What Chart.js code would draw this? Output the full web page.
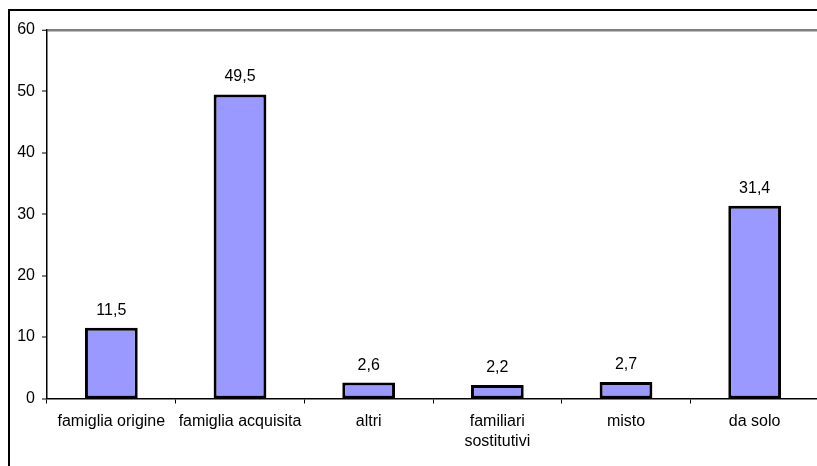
<!DOCTYPE html>
<html>
<head>
<meta charset="utf-8">
<script src="https://cdn.jsdelivr.net/npm/chart.js@4/dist/chart.umd.min.js"></script>
<style>
  html, body { margin: 0; padding: 0; background: #fff; overflow: hidden; }
  #wrap { position: absolute; left: 0; top: 0; width: 830px; height: 466px; }
</style>
</head>
<body>
<div id="wrap"><canvas id="c" width="830" height="466"></canvas></div>
<script>
const categories = ["famiglia origine", "famiglia acquisita", "altri", ["familiari", "sostitutivi"], "misto", "da solo"];
const values = [11.5, 49.5, 2.6, 2.2, 2.7, 31.4];
const yTicks = [0, 10, 20, 30, 40, 50, 60];

const FONT = "'Liberation Sans', Arial, sans-serif";

const frame = {
  id: 'frame',
  beforeDraw(chart) {
    const ctx = chart.ctx;
    ctx.save();
    ctx.fillStyle = '#fff';
    ctx.fillRect(0, 0, chart.width, chart.height);
    ctx.strokeStyle = '#000';
    ctx.lineWidth = 2;
    ctx.strokeRect(9, 10, chart.width + 20, chart.height + 20);
    ctx.restore();
  }
};

const valueLabels = {
  id: 'valueLabels',
  afterDatasetsDraw(chart) {
    const ctx = chart.ctx;
    const meta = chart.getDatasetMeta(0);
    ctx.save();
    ctx.fillStyle = '#000';
    ctx.font = '16px ' + FONT;
    ctx.textAlign = 'center';
    ctx.textBaseline = 'alphabetic';
    meta.data.forEach((bar, i) => {
      const txt = values[i].toFixed(1).replace('.', ',');
      ctx.fillText(txt, bar.x, bar.y - 13);
    });
    ctx.restore();
  }
};

new Chart(document.getElementById('c'), {
  type: 'bar',
  data: {
    labels: categories,
    datasets: [{
      data: values,
      backgroundColor: '#9999FF',
      borderColor: '#000',
      borderWidth: 3,
      borderSkipped: false,
      categoryPercentage: 1,
      barPercentage: 0.41
    }]
  },
  options: {
    responsive: false,
    animation: false,
    events: [],
    layout: { padding: { left: 0, top: 30, right: 11, bottom: 0 } },
    plugins: { legend: { display: false }, tooltip: { enabled: false } },
    scales: {
      x: {
        offset: true,
        grid: { offset: true, drawOnChartArea: false, tickLength: 5, tickColor: '#000', tickWidth: 1 },
        border: { color: '#000', width: 1.5 },
        ticks: { color: '#000', font: { family: FONT, size: 16, lineHeight: 1.25 }, padding: 8, maxRotation: 0, autoSkip: false },
        afterFit(s) { s.height = 67.5; }
      },
      y: {
        min: 0, max: 60,
        afterBuildTicks(s) { s.ticks = yTicks.map(v => ({ value: v })); },
        grid: {
          color: c => (c.tick && c.tick.value === 60) ? '#808080' : 'rgba(0,0,0,0)',
          lineWidth: c => (c.tick && c.tick.value === 60) ? 2.5 : 0,
          tickColor: '#000', tickLength: 5, tickWidth: 1
        },
        border: { color: '#000', width: 1.5 },
        ticks: { color: '#000', font: { family: FONT, size: 16 }, padding: 7 },
        afterFit(s) { s.width = 47; }
      }
    }
  },
  plugins: [frame, valueLabels]
});
</script>
</body>
</html>
